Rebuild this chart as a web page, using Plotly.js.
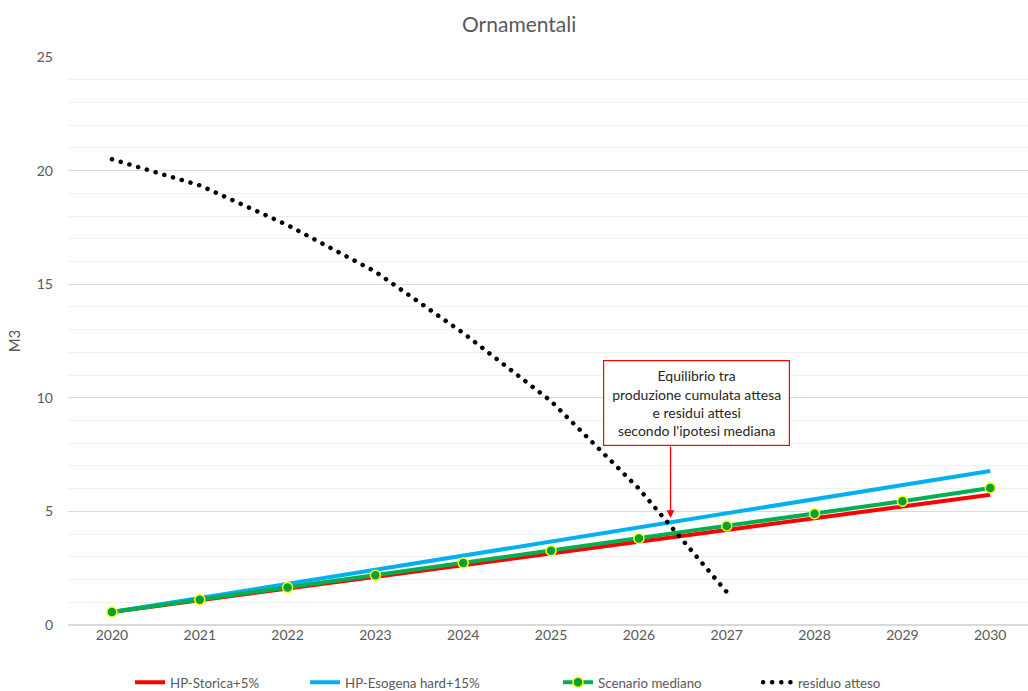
<!DOCTYPE html>
<html>
<head>
<meta charset="utf-8">
<script src="https://cdn.plot.ly/plotly-3.0.1.min.js"></script>
<style>
html,body{margin:0;padding:0;background:#fff;}
#chart{width:1028px;height:691px;}
path.js-line[style*="dasharray"], .legendlines path[style*="dasharray"] {stroke-linecap: round;}
</style>
</head>
<body>
<div id="chart"></div>
<script>
const years = [2020, 2021, 2022, 2023, 2024, 2025, 2026, 2027, 2028, 2029, 2030];
const residueYears = [2020, 2021, 2022, 2023, 2024, 2025, 2026, 2027];
const hpStorica = [0.57, 1.09, 1.60, 2.12, 2.63, 3.15, 3.66, 4.18, 4.70, 5.21, 5.73];
const hpEsogena = [0.57, 1.19, 1.81, 2.43, 3.05, 3.67, 4.30, 4.92, 5.54, 6.16, 6.78];
const scenarioMediano = [0.57, 1.11, 1.65, 2.19, 2.73, 3.27, 3.81, 4.36, 4.90, 5.45, 6.03];
const residuoAtteso = [20.5, 19.35, 17.6, 15.55, 12.85, 9.85, 6.0, 1.45];
const seriesNames = ["HP-Storica+5%", "HP-Esogena hard+15%", "Scenario mediano", "residuo atteso"];
const chartTitle = "Ornamentali";
const yTitle = "M3";
const noteText = "Equilibrio tra<br>produzione cumulata attesa<br>e residui attesi<br>secondo l'ipotesi mediana";

const FONT = "Lato, 'Open Sans', sans-serif";
const GREY = "#595959";

const traces = [
  {x: years, y: hpStorica, name: seriesNames[0], type: "scatter", mode: "lines",
   line: {color: "#ff0000", width: 4}, legend: "legend"},
  {x: years, y: hpEsogena, name: seriesNames[1], type: "scatter", mode: "lines",
   line: {color: "#00b0f0", width: 4}, legend: "legend2"},
  {x: years, y: scenarioMediano, name: seriesNames[2], type: "scatter", mode: "lines+markers",
   line: {color: "#00b050", width: 4},
   marker: {size: 10, color: "#00a040", line: {color: "#ffff00", width: 1.5}}, legend: "legend3"},
  {x: residueYears, y: residuoAtteso, name: seriesNames[3], type: "scatter", mode: "lines",
   line: {color: "#000000", width: 4.5, dash: "0.1px,9px"}, legend: "legend4"}
];

function leg(x) {
  return {orientation: "h", xref: "container", yref: "container", x: x, xanchor: "left",
          y: 0.012, yanchor: "middle", font: {family: FONT, size: 13.3, color: GREY},
          itemwidth: 30, bgcolor: "rgba(0,0,0,0)"};
}

const layout = {
  width: 1028, height: 691,
  paper_bgcolor: "#ffffff", plot_bgcolor: "#ffffff",
  font: {family: FONT, color: GREY, size: 14},
  margin: {l: 68, r: 0, t: 57, b: 66},
  title: {text: chartTitle, x: 0.505, xanchor: "center", y: 0.965, yanchor: "middle",
          font: {family: FONT, size: 21, color: GREY}},
  xaxis: {range: [2019.5, 2030.43], tickmode: "array", tickvals: years, ticktext: years.map(String),
          showgrid: false, zeroline: false, showline: false, ticks: "", ticklabeloverflow: "allow",
          tickfont: {family: FONT, size: 14, color: GREY}, fixedrange: true},
  yaxis: {range: [0, 25], dtick: 5, tick0: 0, showgrid: true, gridcolor: "#d9d9d9", gridwidth: 1,
          zeroline: true, zerolinecolor: "#d9d9d9", zerolinewidth: 1.5, showline: false, ticks: "",
          ticklabelstandoff: 14,
          minor: {dtick: 1, tick0: 0, showgrid: true, gridcolor: "#f0f0f0", gridwidth: 1},
          tickfont: {family: FONT, size: 14, color: GREY},
          title: {text: yTitle, font: {family: FONT, size: 15, color: GREY}, standoff: 12},
          fixedrange: true},
  showlegend: true,
  legend: leg(0.1265),
  legend2: leg(0.2967),
  legend3: leg(0.5428),
  legend4: leg(0.7374),
  annotations: [
    {x: 2026.66, y: 9.76, xref: "x", yref: "y", text: noteText, showarrow: false,
     font: {family: FONT, size: 14, color: "#262626"}, align: "center",
     bordercolor: "#ff0000", borderwidth: 1.2, bgcolor: "#ffffff", width: 183, height: 82},
    {x: 2026.36, y: 4.71, xref: "x", yref: "y", ax: 0, ay: -73, axref: "pixel", ayref: "pixel",
     text: "", showarrow: true, arrowhead: 2, arrowsize: 1.2, arrowwidth: 1.3, arrowcolor: "#ff0000",
     standoff: 0, startstandoff: 0}
  ]
};

Plotly.newPlot("chart", traces, layout, {displayModeBar: false, staticPlot: true});
</script>
</body>
</html>
